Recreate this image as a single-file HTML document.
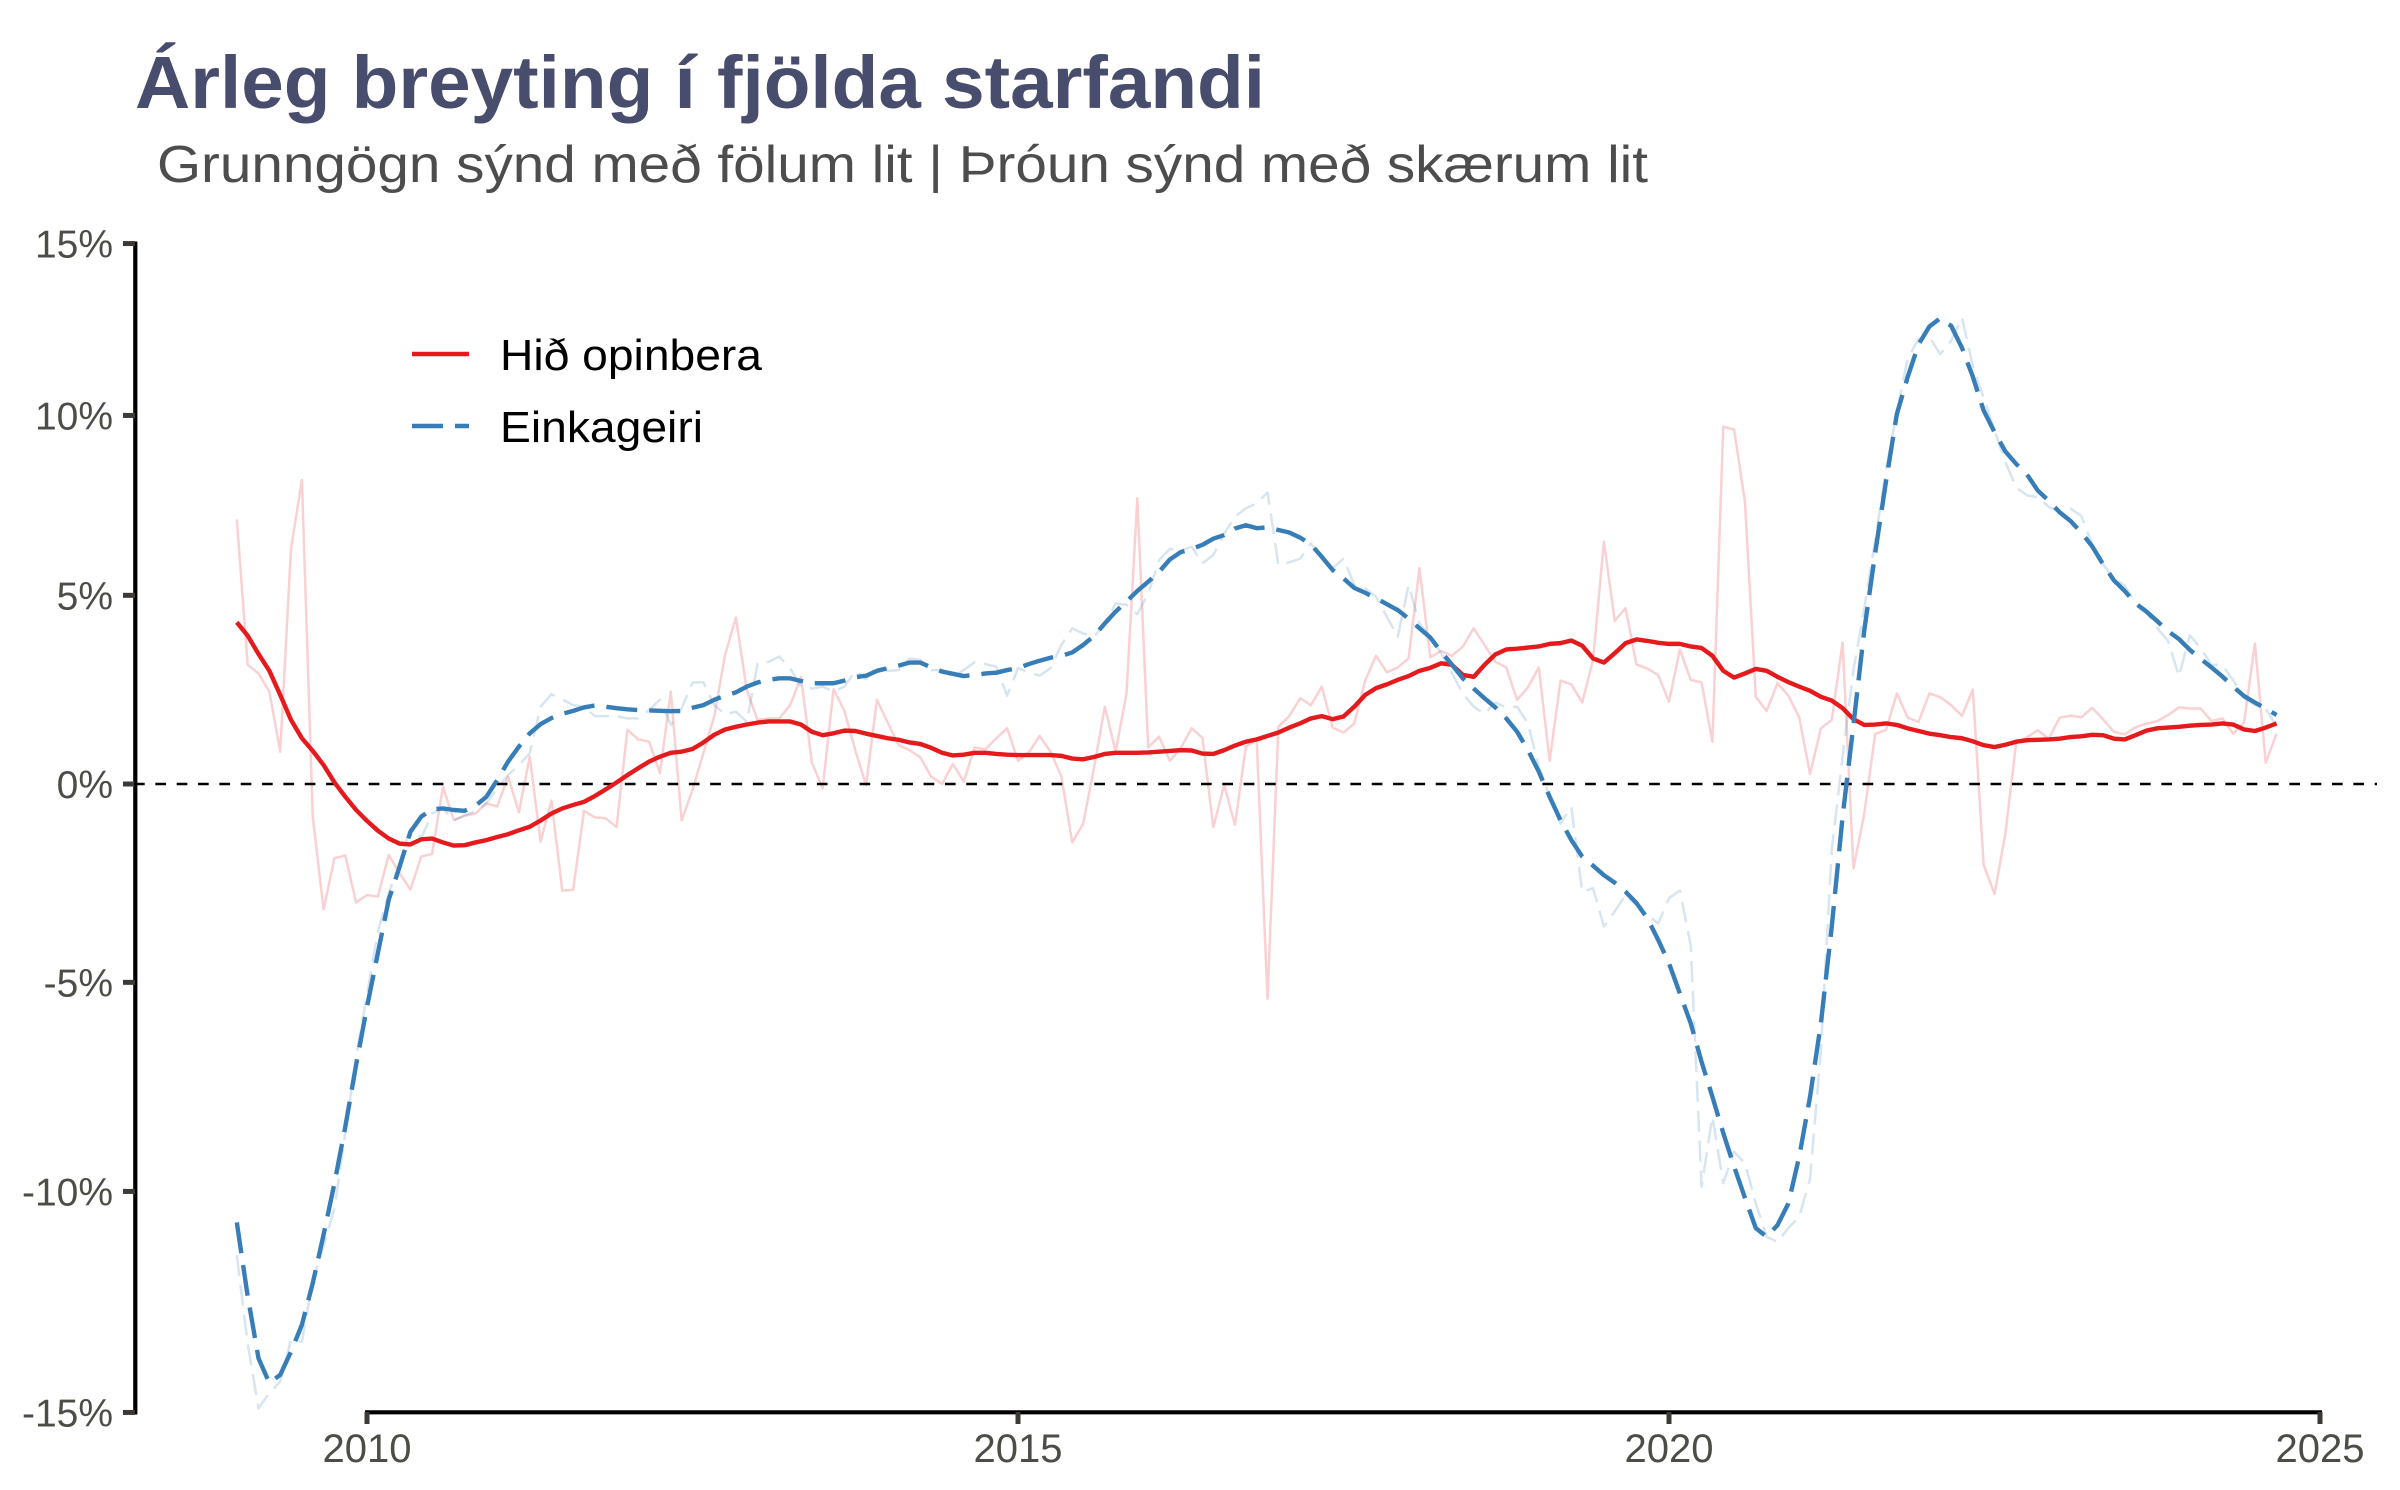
<!DOCTYPE html>
<html lang="is">
<head>
<meta charset="utf-8">
<title>Árleg breyting í fjölda starfandi</title>
<style>
html,body{margin:0;padding:0;background:#fff;}
svg{display:block;font-family:"Liberation Sans",sans-serif;}
</style>
</head>
<body>
<svg id="chart" width="2400" height="1490" viewBox="0 0 2400 1490" xmlns="http://www.w3.org/2000/svg">
  <rect x="0" y="0" width="2400" height="1490" fill="#ffffff"/>
  <text x="135" y="108" font-size="74" font-weight="700" fill="#484c6d" textLength="1130" lengthAdjust="spacingAndGlyphs">Árleg breyting í fjölda starfandi</text>
  <text x="157" y="182" font-size="52" fill="#4d4d4d" textLength="1491" lengthAdjust="spacingAndGlyphs">Grunngögn sýnd með fölum lit | Þróun sýnd með skærum lit</text>
  <g id="axes"></g>
  <g id="marks"></g>
  <g>
    <g>
      <line x1="412" x2="469" y1="354" y2="354" stroke="#E41A1C" stroke-width="4.4"/>
      <text x="500" y="370" font-size="44" fill="#000" textLength="262" lengthAdjust="spacingAndGlyphs">Hið opinbera</text>
    </g>
    <g>
      <line x1="412" x2="469" y1="426" y2="426" stroke="#377EB8" stroke-width="4.4" stroke-dasharray="31 12"/>
      <text x="500" y="442" font-size="44" fill="#000" textLength="203" lengthAdjust="spacingAndGlyphs">Einkageiri</text>
    </g>
  </g>
</svg>
<script>
const startYear = 2009;

const publicRaw = [
  7.08,3.13,2.9,2.42,0.84,6.28,8.18,-0.84,-3.19,-1.9,-1.83,-3.02,
  -2.83,-2.87,-1.82,-2.28,-2.69,-1.86,-1.79,-0.07,-0.93,-0.82,-0.76,-0.5,
  -0.58,0.19,-0.73,0.71,-1.48,-0.43,-2.72,-2.7,-0.69,-0.86,-0.88,-1.11,
  1.41,1.16,1.1,0.28,2.42,-0.94,-0.15,0.8,1.76,3.39,4.4,2.46,
  1.67,1.71,1.71,2.06,2.81,0.55,-0.11,2.48,1.91,0.88,-0.03,2.2,
  1.6,1.01,0.88,0.69,0.19,0,0.52,0.06,0.95,0.9,1.19,1.45,
  0.6,0.82,1.25,0.84,0.19,-1.5,-1.03,0.41,2.02,0.84,2.37,7.67,
  0.95,1.23,0.6,0.93,1.45,1.2,-1.11,-0.03,-1.05,0.97,1.15,-5.4,
  1.49,1.77,2.24,2.06,2.55,1.47,1.34,1.58,2.71,3.37,2.93,3.06,
  3.3,5.74,3.33,3.5,3.37,3.62,4.11,3.66,3.21,3.06,2.2,2.53,
  3.06,0.6,2.71,2.61,2.13,3.26,6.47,4.31,4.65,3.14,3.03,2.86,
  2.15,3.54,2.73,2.66,1.1,9.68,9.6,7.57,2.28,1.91,2.64,2.31,
  1.74,0.26,1.45,1.67,3.73,-2.16,-0.76,1.3,1.41,2.37,1.73,1.62,
  2.37,2.27,2.06,1.78,2.47,-2.07,-2.8,-1.28,1.08,1.22,1.4,1.17,
  1.73,1.78,1.74,1.99,1.69,1.36,1.29,1.48,1.57,1.64,1.8,2.0,
  1.97,1.97,1.64,1.71,1.31,1.6,3.7,0.55,1.31
];

const privateRaw = [
  -11.47,-13.47,-14.91,-14.57,-14.32,-13.39,-13.43,-12.04,-11.27,-10.39,-8.63,-6.81,
  -5.3,-3.75,-2.79,-2.03,-1.14,-1.39,-0.76,-0.63,-0.94,-0.8,-0.71,-0.5,
  -0.11,0.23,0.49,0.8,2.02,2.35,2.21,2.06,2.02,1.77,1.77,1.77,
  1.71,1.71,1.93,2.21,1.54,1.98,2.66,2.67,2.06,1.82,1.89,1.62,
  3.17,3.21,3.35,3.04,2.55,2.5,2.55,2.42,2.55,2.97,2.75,3.08,
  2.97,2.99,3.3,3.26,2.99,2.99,2.81,2.99,3.2,3.15,3.08,2.31,
  3.04,2.93,2.84,3.04,3.66,4.11,3.97,3.88,4.24,4.78,4.74,4.49,
  5.05,5.96,6.27,6.22,6.33,5.87,6.1,6.69,7.16,7.39,7.53,7.83,
  5.83,5.9,6.0,6.42,6.0,5.74,6.0,5.28,5.19,4.96,4.42,3.88,
  5.28,4.24,3.88,3.44,2.9,2.37,2.02,1.83,2.13,2.0,2.02,1.58,
  0.45,-0.33,-1.02,-0.59,-2.75,-2.66,-3.62,-3.24,-2.83,-3.08,-3.33,-3.54,
  -2.91,-2.72,-4.08,-9.89,-8.24,-9.81,-9.07,-9.34,-10.28,-11.05,-11.17,-10.85,
  -10.59,-9.7,-6.65,-1.69,0.71,2.99,4.65,6.5,8.46,10.09,11.63,12.2,
  12.25,11.76,12.14,12.82,11.42,10.5,9.58,8.68,7.97,7.75,7.7,7.43,
  7.28,7.38,7.18,6.39,5.85,5.46,5.27,4.78,4.54,4.11,3.77,2.82,
  3.92,3.58,3.13,3.13,2.72,2.25,2.06,1.97,1.5
];

const publicTrend = [
  4.27,3.91,3.42,2.97,2.33,1.67,1.19,0.86,0.49,0.04,-0.33,-0.67,
  -0.95,-1.2,-1.4,-1.53,-1.55,-1.42,-1.4,-1.5,-1.58,-1.57,-1.5,-1.44,
  -1.36,-1.29,-1.19,-1.1,-0.94,-0.76,-0.63,-0.54,-0.46,-0.31,-0.14,0.04,
  0.23,0.41,0.58,0.71,0.81,0.84,0.91,1.08,1.28,1.42,1.49,1.55,
  1.6,1.63,1.63,1.63,1.55,1.36,1.27,1.32,1.39,1.38,1.31,1.25,
  1.19,1.15,1.08,1.04,0.94,0.81,0.74,0.76,0.81,0.81,0.78,0.76,
  0.75,0.75,0.75,0.75,0.73,0.66,0.64,0.7,0.78,0.81,0.81,0.81,
  0.82,0.84,0.86,0.88,0.87,0.79,0.78,0.88,1.0,1.1,1.16,1.25,
  1.34,1.47,1.58,1.71,1.77,1.69,1.76,2.02,2.33,2.51,2.61,2.73,
  2.83,2.97,3.05,3.17,3.13,2.86,2.81,3.13,3.41,3.54,3.56,3.59,
  3.62,3.69,3.71,3.78,3.64,3.3,3.19,3.44,3.71,3.81,3.77,3.72,
  3.69,3.69,3.62,3.58,3.37,2.97,2.79,2.9,3.02,2.97,2.81,2.67,
  2.55,2.44,2.28,2.18,1.98,1.69,1.54,1.55,1.58,1.54,1.45,1.38,
  1.31,1.27,1.22,1.19,1.11,1.01,0.96,1.02,1.1,1.14,1.15,1.16,
  1.18,1.22,1.24,1.28,1.27,1.18,1.16,1.27,1.39,1.45,1.47,1.49,
  1.52,1.54,1.55,1.58,1.55,1.42,1.38,1.47,1.58
];

const privateTrend = [
  -10.72,-12.4,-13.8,-14.35,-14.17,-13.65,-13.05,-12.11,-11.0,-9.81,-8.48,-7.0,
  -5.6,-4.28,-2.95,-2.12,-1.23,-0.84,-0.65,-0.63,-0.67,-0.69,-0.56,-0.33,
  0.1,0.58,0.97,1.32,1.56,1.72,1.83,1.91,2.0,2.05,2.02,1.98,
  1.95,1.93,1.92,1.91,1.9,1.91,1.99,2.06,2.2,2.31,2.4,2.55,
  2.66,2.73,2.77,2.77,2.7,2.64,2.64,2.64,2.71,2.8,2.84,2.97,
  3.04,3.11,3.19,3.19,3.06,2.95,2.89,2.83,2.86,2.9,2.92,2.99,
  3.04,3.15,3.24,3.32,3.37,3.46,3.66,3.9,4.24,4.56,4.83,5.12,
  5.37,5.64,5.98,6.18,6.27,6.38,6.55,6.65,6.83,6.92,6.84,6.86,
  6.79,6.72,6.58,6.39,6.05,5.69,5.46,5.2,5.07,4.92,4.76,4.6,
  4.37,4.11,3.86,3.48,3.13,2.77,2.5,2.24,2.0,1.71,1.36,0.88,
  0.32,-0.33,-0.93,-1.44,-1.86,-2.09,-2.33,-2.52,-2.75,-3.03,-3.41,-3.95,
  -4.53,-5.27,-6.0,-6.93,-7.77,-8.63,-9.42,-10.15,-10.85,-11.05,-10.78,-10.28,
  -9.19,-7.77,-6.0,-3.62,-0.84,1.54,4.06,6.15,8.14,10.04,11.1,12.04,
  12.56,12.8,12.58,11.94,11.11,10.14,9.53,8.98,8.63,8.33,7.88,7.6,
  7.28,7.04,6.72,6.34,5.85,5.41,5.12,4.78,4.56,4.3,4.03,3.82,
  3.53,3.29,3.06,2.82,2.55,2.3,2.13,1.97,1.8
];

const xTicks = [2010, 2015, 2020, 2025];
const yTicks = [15, 10, 5, 0, -5, -10, -15];
const yTickLabels = ["15%", "10%", "5%", "0%", "-5%", "-10%", "-15%"];

function xScale(year) {
  return 367 + (year - 2010) * 130.2;
}
function yScale(pct) {
  return 784 - 3867 * Math.log(1 + pct / 100);
}

const NS = "http://www.w3.org/2000/svg";
const axes = document.getElementById("axes");
const marks = document.getElementById("marks");

function make(tag, attrs, parent) {
  const el = document.createElementNS(NS, tag);
  for (const k in attrs) el.setAttribute(k, attrs[k]);
  parent.appendChild(el);
  return el;
}

function pathFrom(values) {
  return values.map(function (v, i) {
    const x = xScale(startYear + i / 12);
    return (i ? "L" : "M") + x.toFixed(2) + " " + yScale(v).toFixed(2);
  }).join(" ");
}

const yAxis = make("line", {x1: 135.3, x2: 135.3, y1: yScale(15) - 2, y2: yScale(-15) + 2, stroke: "#000", "stroke-width": 4.2}, axes);



const xAxis = make("line", {x1: xScale(xTicks[0]) - 2, x2: xScale(xTicks[xTicks.length - 1]) + 2, y1: 1412.3, y2: 1412.3, stroke: "#000", "stroke-width": 4.2}, axes);



yTicks.forEach(function (t, i) {
  const y = yScale(t);
  const tick = make("line", {x1: 123, x2: 135, y1: y, y2: y, stroke: "#3d3a36", "stroke-width": 5}, axes);
  
  
  const label = make("text", {x: 113, y: y + 14, "font-size": 39, fill: "#4d4d47", "text-anchor": "end"}, axes);
  
  
  label.textContent = yTickLabels[i];
});

xTicks.forEach(function (t) {
  const x = xScale(t);
  const tick = make("line", {x1: x, x2: x, y1: 1412, y2: 1424, stroke: "#3d3a36", "stroke-width": 5}, axes);
  
  
  const label = make("text", {x: x, y: 1462, "font-size": 40, fill: "#4d4d47", "text-anchor": "middle"}, axes);
  
  
  label.textContent = String(t);
});

const rawPublicLine = make("path", {d: pathFrom(publicRaw), fill: "none", stroke: "#E41A1C", "stroke-opacity": 0.2, "stroke-width": 2.5, "stroke-linejoin": "round"}, marks);



const rawPrivateLine = make("path", {d: pathFrom(privateRaw), fill: "none", stroke: "#377EB8", "stroke-opacity": 0.2, "stroke-width": 2.5, "stroke-linejoin": "round", "stroke-dasharray": "21 9"}, marks);



const zeroLine = make("line", {x1: 134, x2: 2377, y1: yScale(0), y2: yScale(0), stroke: "#000", "stroke-width": 2.4, "stroke-dasharray": "10.67 10.67"}, marks);



const trendPublicLine = make("path", {d: pathFrom(publicTrend), fill: "none", stroke: "#E41A1C", "stroke-width": 4.4, "stroke-linejoin": "round"}, marks);



const trendPrivateLine = make("path", {d: pathFrom(privateTrend), fill: "none", stroke: "#377EB8", "stroke-width": 4.4, "stroke-linejoin": "round", "stroke-dasharray": "31 12"}, marks);


</script>
</body>
</html>
